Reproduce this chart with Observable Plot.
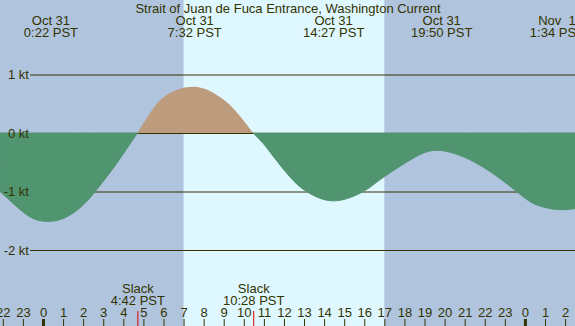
<!DOCTYPE html>
<html><head><meta charset="utf-8">
<script src="https://cdn.jsdelivr.net/npm/d3@7"></script>
<script src="https://cdn.jsdelivr.net/npm/@observablehq/plot@0.6"></script>
<style>
html,body{margin:0;padding:0;background:#b0c4de;overflow:hidden;}
</style></head><body><div id="chart"></div>
<script>
const title = "Strait of Juan de Fuca Entrance, Washington Current";
// hours since Oct 31 00:00 PST, current speed in knots
const hours = [-2.14, -1.3, -0.5, 0.37, 1.2, 2.0, 2.6, 3.17, 3.67, 4.17, 4.70, 5.33, 6.16, 7.53, 8.65, 9.48, 10.47, 10.97, 11.47, 12.3, 13.13, 14.5, 15.95, 16.78, 18.44, 19.85, 21.76, 23.59, 24.59, 25.7, 26.5];
const knots = [-1.00, -1.26, -1.46, -1.51, -1.43, -1.23, -1.00, -0.75, -0.52, -0.27, 0, 0.34, 0.65, 0.79, 0.65, 0.42, 0, -0.18, -0.40, -0.75, -1.00, -1.16, -1.00, -0.80, -0.43, -0.30, -0.55, -1.00, -1.23, -1.31, -1.29];
const eventHours = [0.37, 7.53, 14.45, 19.83, 25.57];
const eventLabels = ["Oct 31\n0:22 PST", "Oct 31\n7:32 PST", "Oct 31\n14:27 PST", "Oct 31\n19:50 PST", "Nov  1\n1:34 PST"];
const slackHours = [4.70, 10.47];
const slackLabels = ["Slack\n4:42 PST", "Slack\n10:28 PST"];
const dayStart = 7.0, dayEnd = 17.0;
const tickHours = d3.range(-2, 27);
const ktTicks = [1, 0, -1, -2];
const ktLabels = ["1 kt", "0 kt", "-1 kt", "-2 kt"];

const ink = "#333300";
const font = "Liberation Sans, Arial, sans-serif";

// split the curve into flood / ebb segments at slack (zero) points
const rows = [];
let seg = 0;
hours.forEach((h, i) => {
  rows.push({h, v: knots[i], seg});
  if (knots[i] === 0 && i > 0 && i < hours.length - 1) { seg++; rows.push({h, v: knots[i], seg}); }
});
const segFlood = d3.rollup(rows, r => d3.max(r, d => d.v) > 0, d => d.seg);
const flood = rows.filter(r => segFlood.get(r.seg));
const ebb = rows.filter(r => !segFlood.get(r.seg));

const plot = Plot.plot({
  width: 575, height: 326, margin: 0,
  style: {fontFamily: font, fontSize: "13px", background: "#b0c4de", color: ink},
  x: {domain: [-2.141, 26.494], axis: null},
  y: {domain: [-3.299, 2.2735], axis: null},
  marks: [
    Plot.rect([0], {x1: () => dayStart, x2: () => dayEnd, fill: "#dff7ff"}),
    Plot.ruleY(ktTicks.filter(d => d !== 0), {y: d => d, stroke: ink, insetLeft: 30}),
    Plot.areaY(flood, {x: "h", y: "v", z: "seg", fill: "#bc9c7c", curve: "natural"}),
    Plot.ruleY([0], {y: d => d, stroke: ink, insetLeft: 30}),
    Plot.areaY(ebb, {x: "h", y: "v", z: "seg", fill: "#509470", stroke: "#509470", strokeWidth: 1, curve: "natural"}),
    Plot.text(ktTicks, {y: d => d, text: (d, i) => ktLabels[i], frameAnchor: "left", dx: 28.5, textAnchor: "end", fill: ink, fontSize: 13, fontFamily: font}),
    Plot.text([title], {text: d => d, frameAnchor: "top", lineAnchor: "bottom", dy: 12.5, fill: ink, fontSize: 13, fontFamily: font}),
    Plot.text(eventHours, {x: d => d, text: (d, i) => eventLabels[i], frameAnchor: "top", lineAnchor: "bottom", dy: 36, lineHeight: 0.92, fill: ink, fontSize: 13, fontFamily: font}),
    Plot.text(slackHours, {x: d => d, text: (d, i) => slackLabels[i], frameAnchor: "bottom", lineAnchor: "bottom", dy: -21.7, lineHeight: 0.94, fill: ink, fontSize: 13, fontFamily: font}),
    Plot.text(tickHours, {x: d => d, text: d => String(((d % 24) + 24) % 24), frameAnchor: "bottom", lineAnchor: "bottom", dy: -10, fill: ink, fontSize: 13, fontFamily: font}),
    Plot.ruleX(tickHours, {x: d => d, insetTop: 319, stroke: ink, strokeWidth: d => (d % 24 === 0 ? 3 : 1)}),
    Plot.ruleX(slackHours, {x: d => d, insetTop: 311, stroke: "#e00000"})
  ]
});
document.getElementById("chart").appendChild(plot);
</script>
</body></html>
